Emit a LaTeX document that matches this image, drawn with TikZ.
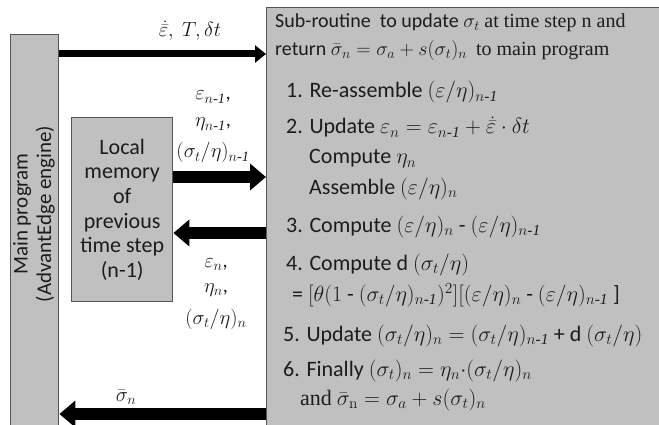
\RequirePackage{fix-cm}
\documentclass[tikz,border=0pt]{standalone}
\usepackage{amsmath}
\usepackage[no-math]{fontspec}
\setmainfont{Carlito}
\newfontfamily\tms{Liberation Serif}
\usetikzlibrary{arrows.meta}
\definecolor{boxgray}{HTML}{C0C0C0}
\definecolor{edgegray}{HTML}{555555}
\definecolor{ink}{HTML}{1C1C1C}
% subscript "n-1" with an italic serif "-1"
\newcommand{\nmo}{n\text{\tms\itshape -1}}
\newcommand{\edot}{\dot{\bar{\varepsilon}}}
\begin{document}
\begin{tikzpicture}[x=1pt,y=-1pt,
  panel/.style={draw=edgegray, line width=1.4pt, fill=boxgray, inner sep=0pt, anchor=north west},
  thinflow/.style={line width=7pt, -{Triangle[length=11pt,width=17pt]}},
  thickflow/.style={line width=12.5pt, -{Triangle[length=16pt,width=26pt]}},
  steptext/.style={anchor=base west, inner sep=0pt, text=ink, font=\fontsize{22}{26}\selectfont},
  headtext/.style={anchor=base west, inner sep=0pt, text=ink, font=\fontsize{20}{24}\selectfont},
  flowlabel/.style={inner sep=0pt, text=ink, font=\fontsize{20.5}{24}\selectfont}]
\useasboundingbox (0,0) rectangle (659,425);
\clip (0,0) rectangle (659,425);
\fill[white] (0,0) rectangle (659,425);

% boxes
\node[panel, minimum width=48pt, minimum height=420pt] (main) at (10,34) {};
\node[panel, minimum width=101pt, minimum height=184pt] (local) at (71,117) {};
\node[panel, minimum width=420pt, minimum height=440pt] (sub) at (266,7) {};

% box captions
\node[rotate=90, align=center, text=ink, font=\fontsize{21}{23.5}\selectfont] (maincap) at (34,214)
  {Main program\\(AdvantEdge engine)};
\node[align=center, text=ink, font=\fontsize{22}{24.6}\selectfont] (localcap) at (local.center)
  {Local\\memory\\of\\previous\\time step\\(n-1)};

% sub-routine steps
\node[headtext] (h1) at (275,28) {Sub-routine\ \ to update $\sigma_t$ {\tms at time step n and}};
\node[headtext] (h2) at (275,56) {return $\bar{\sigma}_n = \sigma_a + s(\sigma_t)_n$\ \ {\tms to main program}};
\node[steptext] (s1) at (286,98) {1. Re-assemble $(\varepsilon/\eta)_{\nmo}$};
\node[steptext] (s2) at (286,134) {2. Update $\varepsilon_n = \varepsilon_{\nmo} + \edot\cdot\delta t$};
\node[steptext] (s2b) at (309,164) {Compute $\eta_n$};
\node[steptext] (s2c) at (309,194) {Assemble $(\varepsilon/\eta)_n$};
\node[steptext] (s3) at (286,232) {3. Compute $(\varepsilon/\eta)_n$ - $(\varepsilon/\eta)_{\nmo}$};
\node[steptext] (s4) at (286,270) {4. Compute d $(\sigma_t/\eta)$};
\node[steptext] (s4b) at (292,301) {= $[\theta(1$ - $(\sigma_t/\eta)_{\nmo})^2][(\varepsilon/\eta)_n$ - $(\varepsilon/\eta)_{\nmo}$ ]};
\node[steptext] (s5) at (283,341) {5. Update $(\sigma_t/\eta)_n = (\sigma_t/\eta)_{\nmo}$ + d $(\sigma_t/\eta)$};
\node[steptext] (s6) at (283,376) {6. Finally $(\sigma_t)_n = \eta_n{\cdot}(\sigma_t/\eta)_n$};
\node[steptext] (s6b) at (300,405) {{\tms and} $\bar{\sigma}_{\mathrm{n}} = \sigma_a + s(\sigma_t)_n$};

% data flow between the boxes
\draw[thinflow]  (main.east |- 0,54)  -- (sub.west |- 0,54);
\draw[thickflow] (local.east |- 0,177) -- (sub.west |- 0,177);
\draw[thickflow] (sub.west |- 0,233)  -- (local.east |- 0,233);
\draw[thickflow] (sub.west |- 0,414)  -- (main.east |- 0,414);

% flow labels
\node[flowlabel, anchor=base] (lin) at (190,37) {$\edot,\ T, \delta t$};
\node[flowlabel, anchor=base] (lo1) at (213,100) {$\varepsilon_{\nmo}$,};
\node[flowlabel, anchor=base] (lo2) at (213,127) {$\eta_{\nmo}$,};
\node[flowlabel, anchor=base] (lo3) at (213,158) {$(\sigma_t/\eta)_{\nmo}$};
\node[flowlabel, anchor=base] (li1) at (216,267) {$\varepsilon_n$,};
\node[flowlabel, anchor=base] (li2) at (216,292) {$\eta_n$,};
\node[flowlabel, anchor=base] (li3) at (216,324) {$(\sigma_t/\eta)_n$};
\node[flowlabel, anchor=base] (lout) at (126,401) {$\bar{\sigma}_n$};
\end{tikzpicture}
\end{document}
